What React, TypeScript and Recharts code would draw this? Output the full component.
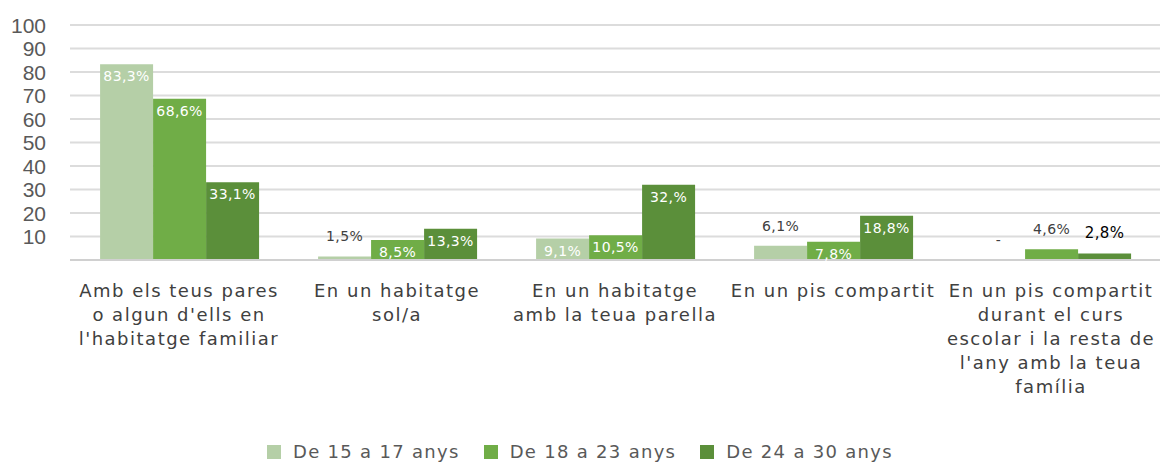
import React from 'react';
import { BarChart, Bar, XAxis, YAxis, CartesianGrid, Legend } from 'recharts';

if (typeof document !== 'undefined') document.body.style.margin = '0';

const categories = [
  "Amb els teus pares\no algun d'ells en\nl'habitatge familiar",
  'En un habitatge\nsol/a',
  'En un habitatge\namb la teua parella',
  'En un pis compartit',
  "En un pis compartit\ndurant el curs\nescolar i la resta de\nl'any amb la teua\nfamília",
];

const seriesNames = ['De 15 a 17 anys', 'De 18 a 23 anys', 'De 24 a 30 anys'];
const age15to17 = [83.3, 1.5, 9.1, 6.1, 0];
const age18to23 = [68.6, 8.5, 10.5, 7.8, 4.6];
const age24to30 = [33.1, 13.3, 32, 18.8, 2.8];
const labels15to17 = ['83,3%', '1,5%', '9,1%', '6,1%', '-'];
const labels18to23 = ['68,6%', '8,5%', '10,5%', '7,8%', '4,6%'];
const labels24to30 = ['33,1%', '13,3%', '32,%', '18,8%', '2,8%'];
const yTicks = [0, 10, 20, 30, 40, 50, 60, 70, 80, 90, 100];

const COLORS = ['#b5cfa7', '#70ad47', '#5b8f3a'];
const FONT = '"DejaVu Sans", sans-serif';

const values = [age15to17, age18to23, age24to30];
const labelTexts = [labels15to17, labels18to23, labels24to30];

const data = categories.map((name, i) => ({
  name,
  s0: age15to17[i],
  s1: age18to23[i],
  s2: age24to30[i],
}));

function makeLabel(series: number) {
  return (props: any) => {
    const { x, y, width, index } = props;
    const v = values[series][index];
    const text = labelTexts[series][index];
    const cx = Number(x) + Number(width) / 2;
    const inside = v > 7;
    // the last label is set a bit darker and larger in the original
    const odd = series === 2 && index === 4;
    return (
      <text
        key={`l-${series}-${index}`}
        x={cx}
        y={inside ? Number(y) + 12 : Number(y) - 20}
        textAnchor="middle"
        dominantBaseline="central"
        fontFamily={FONT}
        fontSize={odd ? 15 : 14}
        letterSpacing={0.4}
        fill={inside ? '#ffffff' : odd ? '#000000' : '#404040'}
      >
        {text}
      </text>
    );
  };
}

function CategoryTick(props: any) {
  const { x, y, payload } = props;
  const lines = String(payload.value).split('\n');
  return (
    <g transform={`translate(${x},${y})`}>
      {lines.map((line: string, i: number) => (
        <text
          key={i}
          x={0}
          y={22 + i * 24}
          textAnchor="middle"
          dominantBaseline="central"
          fontFamily={FONT}
          fontSize={18}
          letterSpacing={1.5}
          fill="#404040"
        >
          {line}
        </text>
      ))}
    </g>
  );
}

function ValueTick(props: any) {
  const { y, payload } = props;
  if (payload.value === 0) return null;
  return (
    <text
      x={46}
      y={y}
      textAnchor="end"
      dominantBaseline="central"
      fontFamily='"Liberation Sans", Arial, sans-serif'
      fontSize={21}
      fill="#595959"
    >
      {payload.value}
    </text>
  );
}

function LegendContent() {
  return (
    <div style={{ display: 'flex', justifyContent: 'center', gap: 24, fontFamily: FONT, fontSize: 18, letterSpacing: 1.3, color: '#595959' }}>
      {seriesNames.map((n, i) => (
        <div key={n} style={{ display: 'flex', alignItems: 'center' }}>
          <span style={{ display: 'inline-block', width: 14, height: 14, background: COLORS[i], marginRight: 12 }} />
          <span>{n}</span>
        </div>
      ))}
    </div>
  );
}

export default function App() {
  return (
    <div style={{ width: 1165, height: 465, background: '#ffffff' }}>
      <BarChart
        width={1165}
        height={465}
        data={data}
        margin={{ top: 25, right: 5, left: 0, bottom: 0 }}
        barCategoryGap="13.8%"
        barGap={0}
      >
        <CartesianGrid vertical={false} stroke="#dcdcdc" strokeWidth={2} />
        <XAxis
          dataKey="name"
          interval={0}
          height={165}
          axisLine={{ stroke: '#d0d0d0', strokeWidth: 2 }}
          tickLine={false}
          tick={<CategoryTick />}
        />
        <YAxis
          width={70}
          domain={[0, 100]}
          ticks={yTicks}
          axisLine={false}
          tickLine={false}
          tick={<ValueTick />}
        />
        <Legend
          verticalAlign="bottom"
          height={40}
          content={<LegendContent />}
          wrapperStyle={{ top: 441, bottom: 'auto' }}
        />
        {['s0', 's1', 's2'].map((k, i) => (
          <Bar
            key={k}
            dataKey={k}
            name={seriesNames[i]}
            fill={COLORS[i]}
            isAnimationActive={false}
            minPointSize={(v: number) => (v === 0 ? 0.01 : 0)}
            label={makeLabel(i)}
          />
        ))}
      </BarChart>
    </div>
  );
}
